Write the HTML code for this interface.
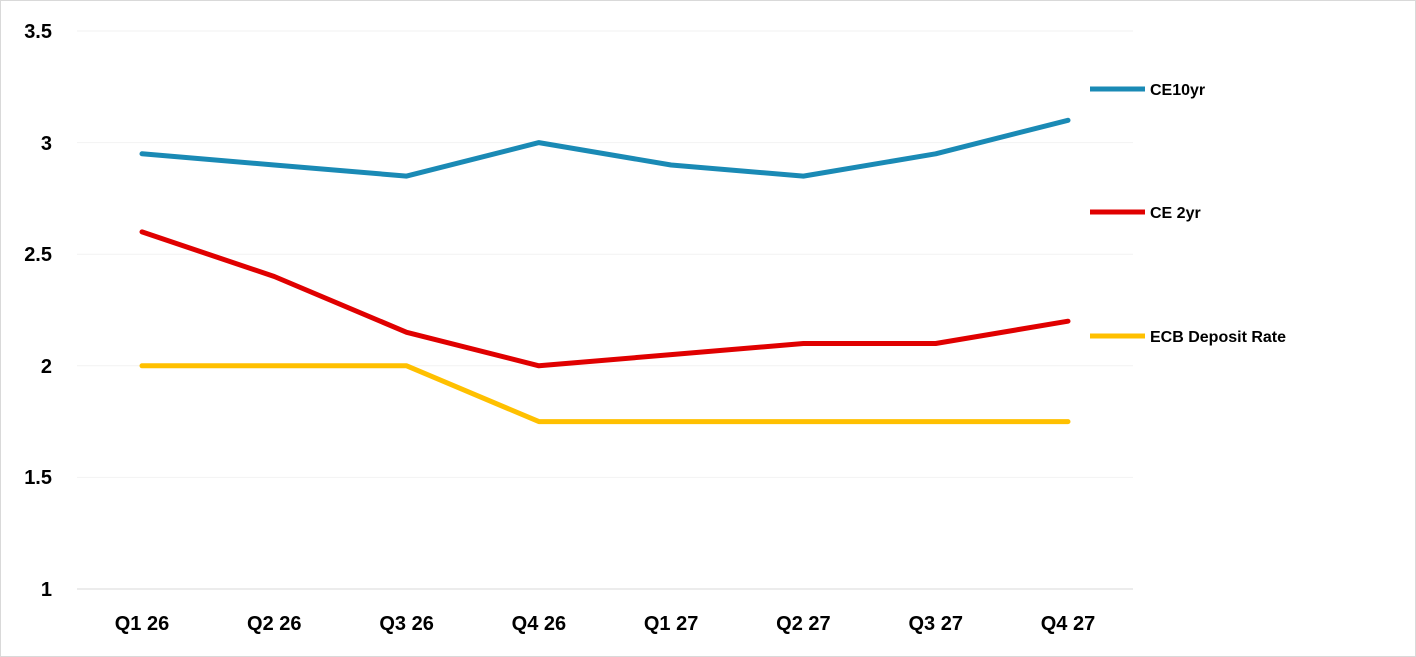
<!DOCTYPE html>
<html><head><meta charset="utf-8"><style>
html,body{margin:0;padding:0;background:#fff;}
svg{display:block;}
text{font-family:"Liberation Sans",Arial,sans-serif;font-weight:bold;fill:#000;}
</style></head><body>
<svg width="1416" height="657" viewBox="0 0 1416 657" xmlns="http://www.w3.org/2000/svg">
<rect x="0.5" y="0.5" width="1415" height="656" fill="#fff" stroke="#d9d9d9"/>
<g stroke="#f2f2f2" stroke-width="1">
<line x1="77" y1="31" x2="1133" y2="31"/>
<line x1="77" y1="142.6" x2="1133" y2="142.6"/>
<line x1="77" y1="254.2" x2="1133" y2="254.2"/>
<line x1="77" y1="365.8" x2="1133" y2="365.8"/>
<line x1="77" y1="477.4" x2="1133" y2="477.4"/>
</g>
<line x1="77" y1="589" x2="1133" y2="589" stroke="#d9d9d9" stroke-width="1"/>
<g font-size="20" text-anchor="end">
<text x="52" y="38">3.5</text>
<text x="52" y="150">3</text>
<text x="52" y="261">2.5</text>
<text x="52" y="373">2</text>
<text x="52" y="484">1.5</text>
<text x="52" y="596">1</text>
</g>
<g font-size="20" text-anchor="middle">
<text x="142" y="630">Q1 26</text>
<text x="274.3" y="630">Q2 26</text>
<text x="406.6" y="630">Q3 26</text>
<text x="538.9" y="630">Q4 26</text>
<text x="671.1" y="630">Q1 27</text>
<text x="803.4" y="630">Q2 27</text>
<text x="935.7" y="630">Q3 27</text>
<text x="1068" y="630">Q4 27</text>
</g>
<g fill="none" stroke-width="5" stroke-linejoin="round" stroke-linecap="round">
<polyline stroke="#ffc000" points="142,365.8 274.3,365.8 406.6,365.8 538.9,421.6 671.1,421.6 803.4,421.6 935.7,421.6 1068,421.6"/>
<polyline stroke="#e00000" points="142,231.9 274.3,276.5 406.6,332.3 538.9,365.8 671.1,354.6 803.4,343.5 935.7,343.5 1068,321.2"/>
<polyline stroke="#1a8ab5" points="142,153.8 274.3,165 406.6,176.1 538.9,142.6 671.1,165 803.4,176.1 935.7,153.8 1068,120.3"/>
</g>
<g stroke-width="5">
<line x1="1090" y1="89" x2="1145" y2="89" stroke="#1a8ab5"/>
<line x1="1090" y1="212" x2="1145" y2="212" stroke="#e00000"/>
<line x1="1090" y1="336" x2="1145" y2="336" stroke="#ffc000"/>
</g>
<g font-size="16">
<text x="1150" y="95">CE10yr</text>
<text x="1150" y="218">CE 2yr</text>
<text x="1150" y="342">ECB Deposit Rate</text>
</g>
</svg>
</body></html>
